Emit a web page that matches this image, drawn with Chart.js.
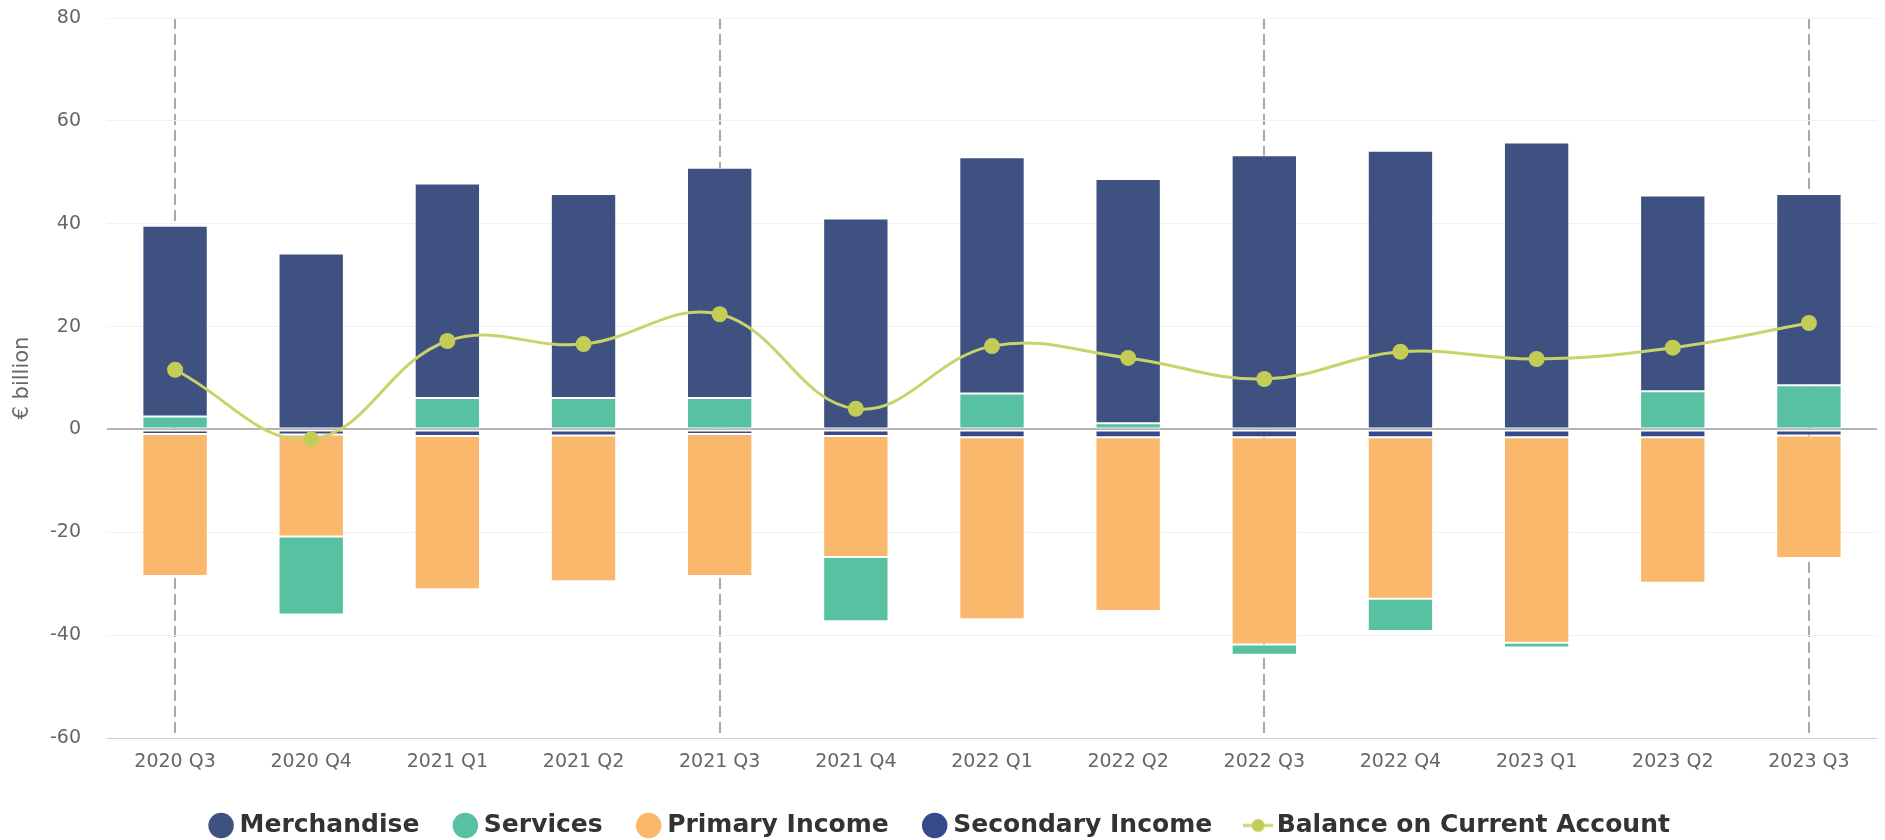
<!DOCTYPE html>
<html>
<head>
<meta charset="utf-8">
<title>Current account components</title>
<script src="https://cdn.jsdelivr.net/npm/chart.js@4"></script>
<style>
  html, body { margin: 0; padding: 0; background: #fff; }
</style>
</head>
<body>
<canvas id="bopChart" width="1885" height="840"></canvas>
<script>
const quarters = ["2020 Q3", "2020 Q4", "2021 Q1", "2021 Q2", "2021 Q3", "2021 Q4", "2022 Q1",
  "2022 Q2", "2022 Q3", "2022 Q4", "2023 Q1", "2023 Q2", "2023 Q3"];

// € billion per quarter
const merchandise = [37.1, 34.2, 41.7, 39.7, 44.8, 41.0, 45.9, 47.5, 53.3, 54.2, 55.8, 38.1, 37.2];
const services = [2.5, -15.2, 6.1, 6.1, 6.1, -12.5, 7.0, 1.2, -2.0, -6.3, -0.9, 7.4, 8.6];
const primaryIncome = [-27.6, -19.8, -29.8, -28.3, -27.6, -23.5, -35.4, -33.8, -40.3, -31.4, -40.0, -28.3, -23.8];
const secondaryIncome = [-0.9, -1.0, -1.3, -1.2, -0.9, -1.3, -1.5, -1.5, -1.5, -1.5, -1.5, -1.5, -1.2];
const currentAccount = [11.6, -1.9, 17.2, 16.6, 22.4, 4.0, 16.2, 13.9, 9.8, 15.1, 13.7, 15.9, 20.7];

const yMin = -60;
const yMax = 80;
const yStep = 20;

const lineColor = "#c8d36a";
const pointColor = "#c3cc55";

// legend symbol for the balance line: short stroke with a dot
function makeLineSymbol() {
  const c = document.createElement("canvas");
  c.width = 30;
  c.height = 16;
  const g = c.getContext("2d");
  g.strokeStyle = lineColor;
  g.lineWidth = 3;
  g.beginPath();
  g.moveTo(0, 8);
  g.lineTo(30, 8);
  g.stroke();
  g.fillStyle = pointColor;
  g.beginPath();
  g.arc(15, 8, 6.5, 0, Math.PI * 2);
  g.fill();
  return c;
}
const lineSymbol = makeLineSymbol();

function barSet(label, data, color, order) {
  return {
    type: "bar",
    label: label,
    data: data,
    backgroundColor: color,
    borderColor: "#ffffff",
    borderWidth: 1,
    borderSkipped: false,
    stack: "bop",
    order: order,
    categoryPercentage: 1,
    barPercentage: 0.48,
  };
}

new Chart(document.getElementById("bopChart"), {
  type: "bar",
  data: {
    labels: quarters,
    datasets: [
      barSet("Merchandise", merchandise, "#3f5181", 4),
      barSet("Services", services, "#58c1a2", 3),
      barSet("Primary Income", primaryIncome, "#f9b86c", 2),
      barSet("Secondary Income", secondaryIncome, "#36498a", 1),
      {
        type: "line",
        label: "Balance on Current Account",
        data: currentAccount,
        borderColor: lineColor,
        borderWidth: 3,
        backgroundColor: pointColor,
        pointBackgroundColor: pointColor,
        pointBorderWidth: 0,
        pointRadius: 8,
        tension: 0.4,
        stack: "balance",
        order: 0,
      },
    ],
  },
  options: {
    responsive: false,
    animation: false,
    layout: {
      padding: { top: 0, right: 0, bottom: -8, left: 0 },
    },
    scales: {
      x: {
        stacked: true,
        afterFit: (scale) => {
          scale.height = 35;
        },
        grid: {
          offset: false,
          drawTicks: false,
          lineWidth: 2,
          color: (ctx) => (quarters[ctx.index] || "").endsWith("Q3") ? "#a9a9a9" : "rgba(0,0,0,0)",
        },
        border: { display: false, dash: [11, 5] },
        ticks: {
          color: "#666666",
          padding: 13,
          font: { family: "DejaVu Sans", size: 19 },
        },
      },
      y: {
        stacked: true,
        min: yMin,
        max: yMax,
        afterFit: (scale) => {
          scale.width = 107;
          scale.paddingTop = 18;
          scale.paddingBottom = 10;
        },
        grid: {
          drawTicks: false,
          color: (ctx) => {
            if (ctx.tick.value === 0) return "#b3b3b3";
            if (ctx.tick.value === yMin) return "#cccccc";
            return "#f2f2f2";
          },
          lineWidth: (ctx) => (ctx.tick.value === 0 ? 2 : 1),
        },
        border: { display: false },
        ticks: {
          stepSize: yStep,
          color: "#666666",
          padding: 26,
          font: { family: "DejaVu Sans", size: 19 },
        },
        title: {
          display: true,
          text: "€ billion",
          color: "#666666",
          padding: { top: 10, bottom: 0 },
          font: { family: "DejaVu Sans", size: 21 },
        },
      },
    },
    plugins: {
      tooltip: { enabled: false },
      legend: {
        position: "bottom",
        labels: {
          usePointStyle: true,
          boxWidth: 12,
          boxHeight: 18,
          padding: 40,
          color: "#333333",
          font: { family: "DejaVu Sans", size: 25, weight: "bold" },
          sort: (a, b) => a.datasetIndex - b.datasetIndex,
          generateLabels: (chart) => {
            const items = Chart.defaults.plugins.legend.labels.generateLabels(chart);
            items.forEach((item) => {
              if (item.datasetIndex === 4) {
                item.pointStyle = lineSymbol;
              } else {
                item.pointStyle = "circle";
                item.lineWidth = 0;
              }
            });
            return items;
          },
        },
      },
    },
  },
});
</script>
</body>
</html>
